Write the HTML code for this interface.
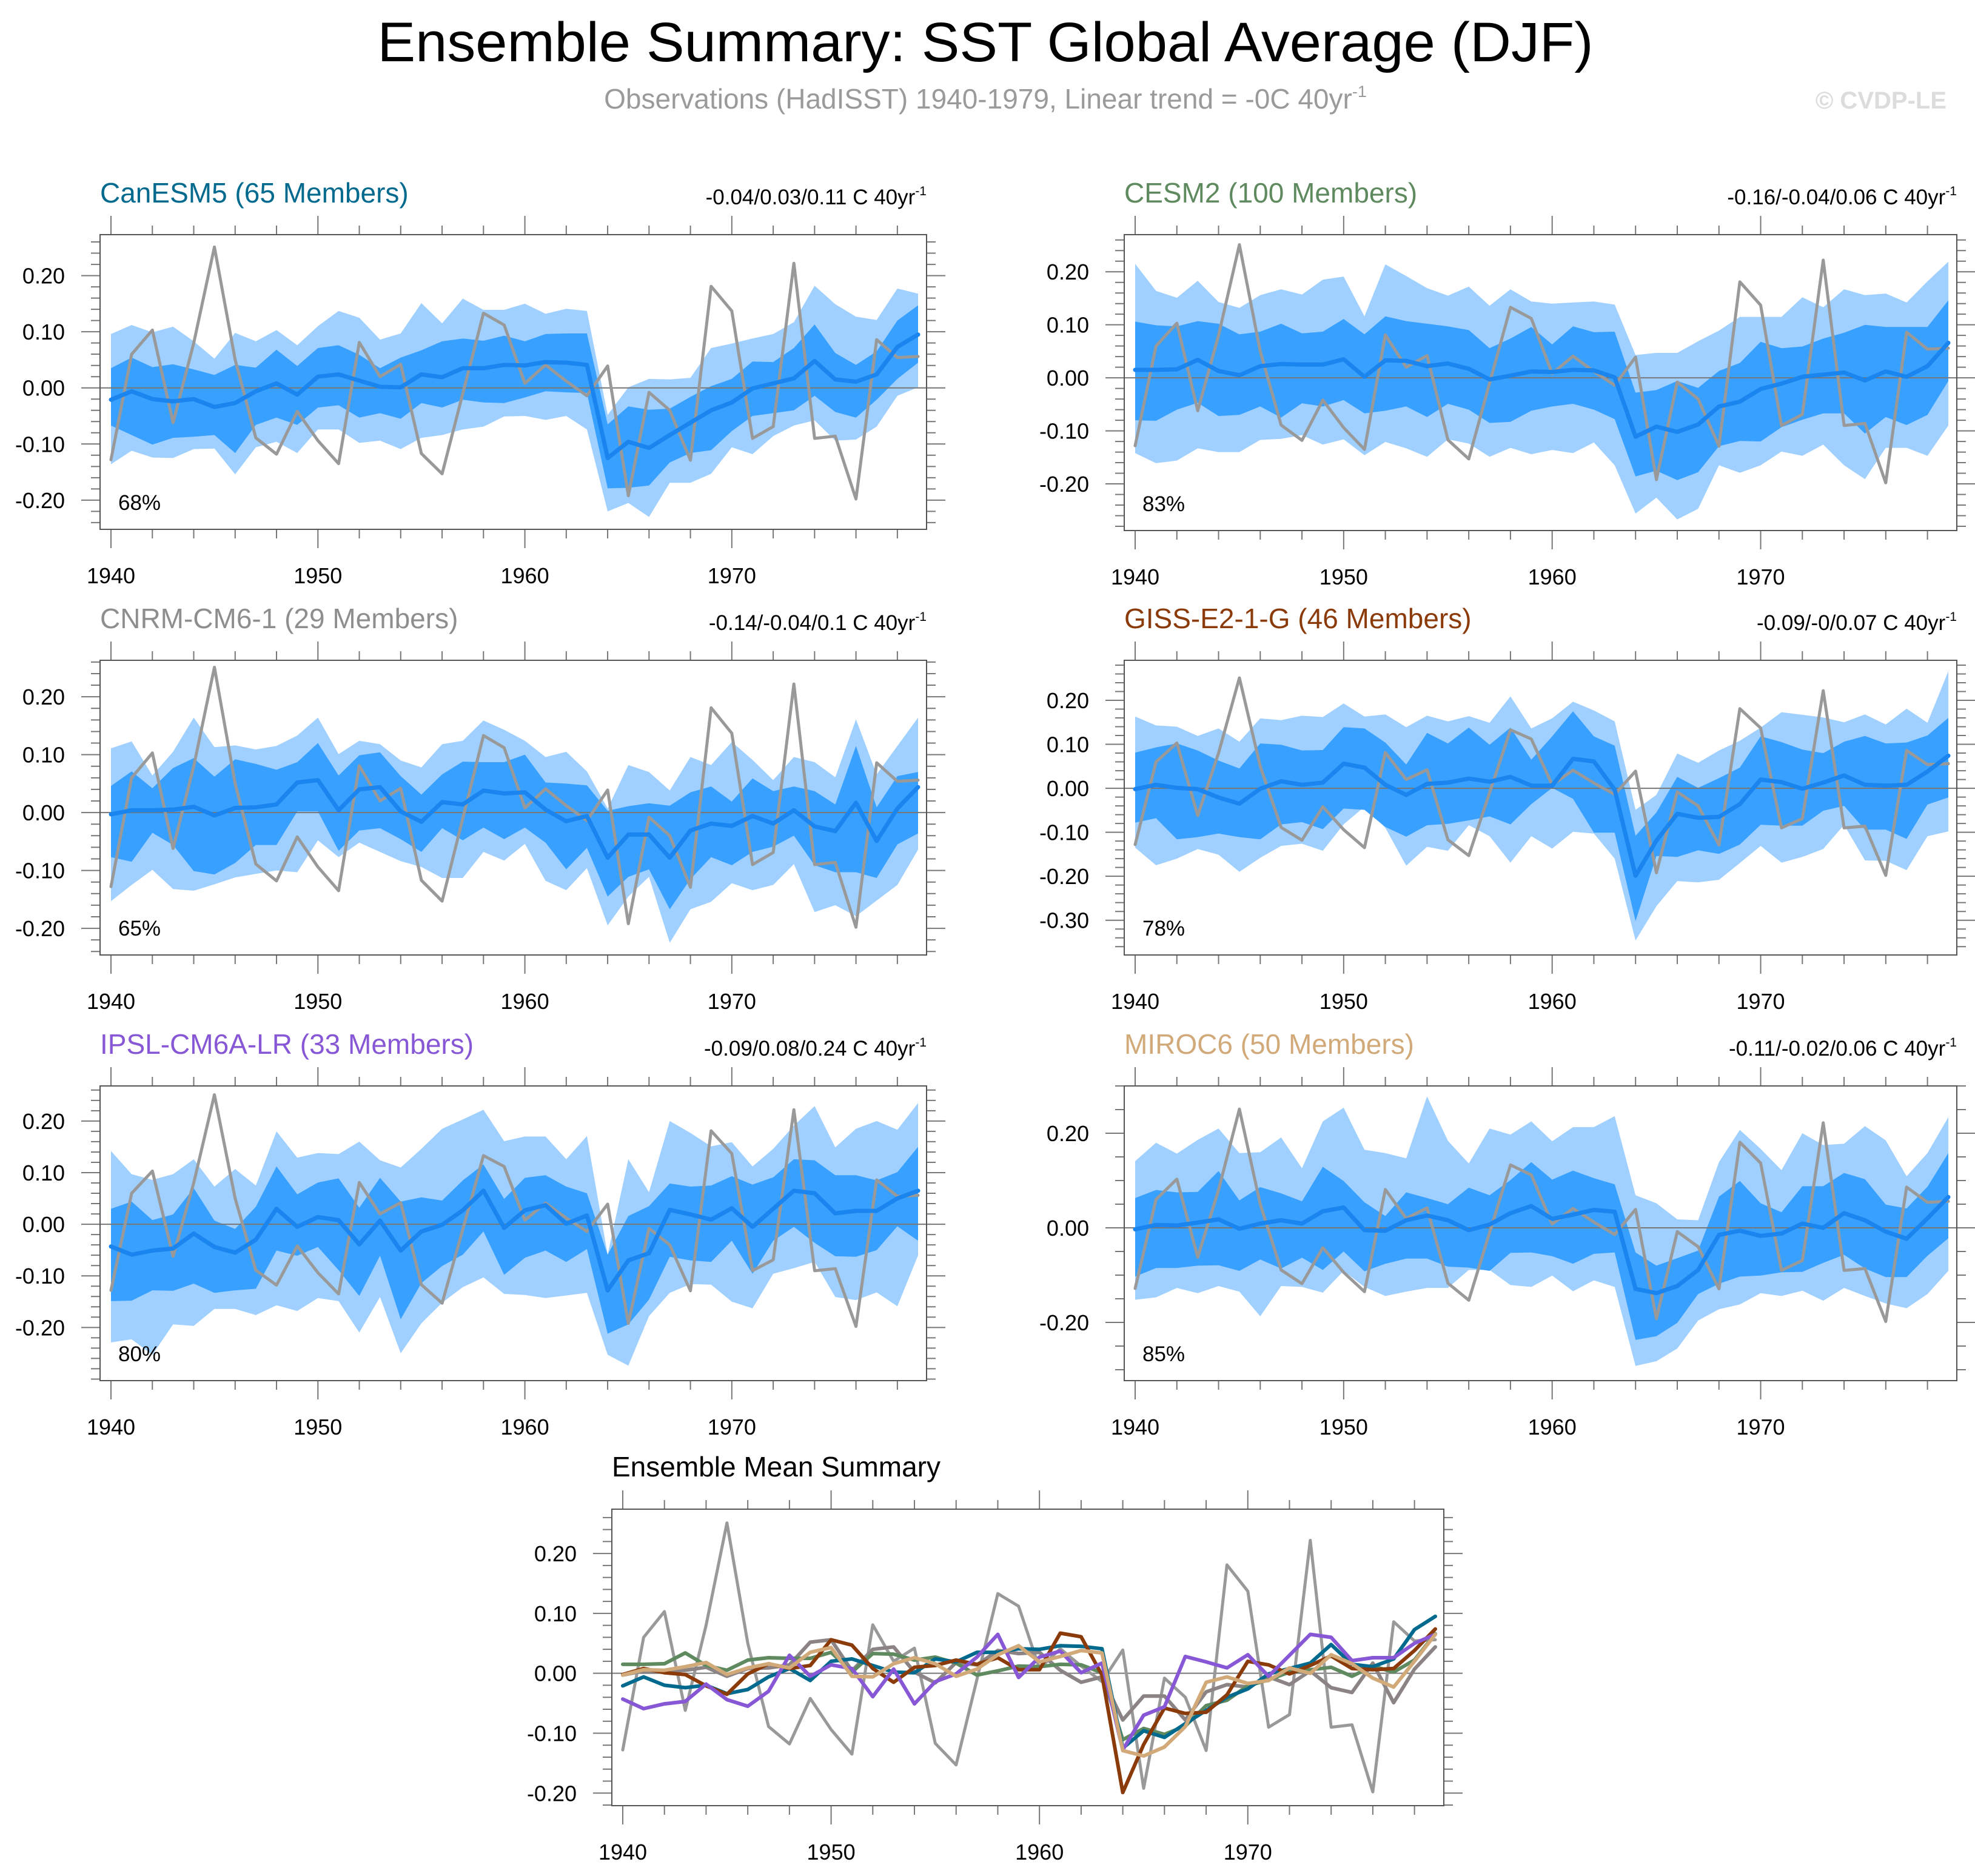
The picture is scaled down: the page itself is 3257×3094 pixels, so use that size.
<!DOCTYPE html>
<html><head><meta charset="utf-8"><style>
html,body{margin:0;padding:0;background:#fff}
svg{display:block;font-family:"Liberation Sans",sans-serif}
</style></head><body>
<svg id="chart" width="3257" height="3094" viewBox="0 0 3257 3094" xmlns="http://www.w3.org/2000/svg">
<rect x="0" y="0" width="3257" height="3094" fill="#fff"/>
<text x="1625" y="101" font-size="92" text-anchor="middle" textLength="2005" lengthAdjust="spacingAndGlyphs">Ensemble Summary: SST Global Average (DJF)</text>
<text x="1625" y="179" font-size="46" fill="#9a9a9a" text-anchor="middle">Observations (HadISST) 1940-1979, Linear trend = -0C 40yr<tspan font-size="27" dy="-19">-1</tspan></text>
<text x="3210" y="179" font-size="40" font-weight="bold" fill="#dcdcdc" text-anchor="end">© CVDP-LE</text>
<g id="plots"></g>
</svg>
<script>
const years=[];for(let y=1940;y<=1979;y++)years.push(y);
const obs=[-0.128,0.060,0.103,-0.062,0.08,0.251,0.05,-0.089,-0.118,-0.042,-0.094,-0.135,0.081,0.020,0.042,-0.117,-0.153,-0.01,0.133,0.112,0.008,0.041,0.012,-0.014,0.039,-0.192,-0.008,-0.040,-0.129,0.181,0.137,-0.090,-0.069,0.222,-0.090,-0.086,-0.198,0.086,0.054,0.056];

const canMean=[-0.021,-0.006,-0.020,-0.024,-0.020,-0.034,-0.027,-0.006,0.008,-0.012,0.020,0.024,0.013,0.002,0.001,0.024,0.019,0.035,0.035,0.041,0.040,0.046,0.045,0.041,-0.125,-0.096,-0.107,-0.084,-0.062,-0.040,-0.026,-0.001,0.008,0.017,0.048,0.015,0.011,0.024,0.073,0.095];
const canOutHi=[0.096,0.112,0.099,0.109,0.083,0.052,0.098,0.083,0.103,0.076,0.110,0.137,0.125,0.086,0.097,0.151,0.115,0.159,0.139,0.139,0.150,0.132,0.141,0.137,-0.048,0.001,0.016,0.015,0.018,0.071,0.079,0.088,0.096,0.117,0.182,0.149,0.127,0.121,0.177,0.168];
const canOutLo=[-0.136,-0.112,-0.124,-0.125,-0.109,-0.108,-0.154,-0.106,-0.096,-0.116,-0.074,-0.074,-0.098,-0.094,-0.109,-0.089,-0.084,-0.074,-0.069,-0.051,-0.050,-0.057,-0.050,-0.074,-0.220,-0.205,-0.230,-0.169,-0.169,-0.153,-0.106,-0.118,-0.086,-0.067,-0.058,-0.094,-0.092,-0.069,-0.014,0.001];
const canInHi=[0.035,0.054,0.037,0.042,0.033,0.023,0.041,0.036,0.068,0.039,0.071,0.076,0.059,0.035,0.054,0.067,0.083,0.088,0.084,0.093,0.083,0.096,0.097,0.097,-0.065,-0.033,-0.039,-0.037,-0.016,0.003,0.016,0.047,0.046,0.071,0.113,0.062,0.041,0.065,0.120,0.147];
const canInLo=[-0.067,-0.084,-0.101,-0.089,-0.087,-0.084,-0.116,-0.066,-0.053,-0.066,-0.035,-0.031,-0.053,-0.045,-0.055,-0.027,-0.035,-0.021,-0.026,-0.027,-0.017,-0.006,-0.008,-0.009,-0.179,-0.178,-0.174,-0.133,-0.116,-0.111,-0.077,-0.050,-0.045,-0.040,-0.014,-0.043,-0.053,-0.021,0.016,0.045];

const cesmMean=[0.015,0.015,0.016,0.034,0.013,0.005,0.022,0.026,0.025,0.025,0.035,0.002,0.033,0.032,0.022,0.027,0.017,-0.003,0.004,0.012,0.011,0.015,0.014,0.001,-0.111,-0.092,-0.102,-0.088,-0.054,-0.045,-0.021,-0.011,0.002,0.006,0.010,-0.005,0.012,0.002,0.022,0.066];
const cesmOutHi=[0.215,0.164,0.151,0.183,0.143,0.132,0.156,0.167,0.157,0.185,0.191,0.116,0.214,0.192,0.169,0.155,0.172,0.136,0.167,0.144,0.140,0.142,0.144,0.138,0.043,0.047,0.047,0.069,0.089,0.115,0.115,0.115,0.152,0.133,0.167,0.156,0.159,0.142,0.182,0.219];
const cesmOutLo=[-0.142,-0.161,-0.156,-0.133,-0.140,-0.140,-0.117,-0.115,-0.108,-0.126,-0.116,-0.146,-0.121,-0.133,-0.149,-0.116,-0.124,-0.149,-0.132,-0.144,-0.136,-0.142,-0.122,-0.165,-0.256,-0.226,-0.267,-0.247,-0.165,-0.179,-0.165,-0.139,-0.147,-0.126,-0.165,-0.191,-0.132,-0.132,-0.147,-0.090];
const cesmInHi=[0.106,0.099,0.097,0.107,0.102,0.082,0.087,0.102,0.084,0.087,0.111,0.082,0.116,0.107,0.102,0.097,0.090,0.056,0.074,0.096,0.063,0.097,0.086,0.087,-0.028,-0.023,-0.006,-0.019,0.013,0.028,0.068,0.056,0.059,0.074,0.085,0.100,0.096,0.096,0.096,0.146];
const cesmInLo=[-0.080,-0.081,-0.060,-0.047,-0.072,-0.070,-0.054,-0.075,-0.048,-0.054,-0.042,-0.067,-0.062,-0.054,-0.074,-0.049,-0.060,-0.085,-0.083,-0.062,-0.054,-0.049,-0.060,-0.078,-0.186,-0.175,-0.193,-0.178,-0.129,-0.119,-0.120,-0.093,-0.079,-0.067,-0.067,-0.105,-0.074,-0.089,-0.070,-0.006];

const cnrmMean=[-0.003,0.004,0.004,0.005,0.010,-0.005,0.008,0.009,0.014,0.052,0.056,0.004,0.040,0.044,0.002,-0.016,0.018,0.014,0.038,0.033,0.035,0.005,-0.015,-0.006,-0.078,-0.038,-0.038,-0.078,-0.031,-0.019,-0.023,-0.006,-0.019,0.004,-0.024,-0.032,0.017,-0.049,0.007,0.044];
const cnrmOutHi=[0.111,0.123,0.064,0.105,0.164,0.113,0.116,0.109,0.115,0.133,0.164,0.101,0.124,0.118,0.090,0.078,0.118,0.124,0.159,0.143,0.124,0.096,0.105,0.071,0.007,0.082,0.070,0.038,0.096,0.082,0.122,0.091,0.056,0.096,0.087,0.061,0.161,0.066,0.115,0.164];
const cnrmOutLo=[-0.153,-0.125,-0.099,-0.132,-0.135,-0.124,-0.112,-0.106,-0.100,-0.103,-0.048,-0.077,-0.052,-0.068,-0.084,-0.094,-0.113,-0.113,-0.068,-0.083,-0.054,-0.118,-0.134,-0.096,-0.195,-0.145,-0.111,-0.225,-0.167,-0.154,-0.122,-0.134,-0.125,-0.089,-0.172,-0.160,-0.179,-0.152,-0.125,-0.064];
const cnrmInHi=[0.046,0.071,0.042,0.077,0.094,0.062,0.092,0.084,0.074,0.087,0.120,0.064,0.099,0.104,0.063,0.031,0.066,0.088,0.087,0.087,0.100,0.052,0.050,0.047,0.003,0.011,0.016,0.012,0.035,0.045,0.019,0.059,0.037,0.045,0.037,0.014,0.115,0.009,0.063,0.070];
const cnrmInLo=[-0.077,-0.085,-0.035,-0.056,-0.101,-0.107,-0.087,-0.056,-0.056,0.002,0.002,-0.066,-0.031,-0.027,-0.046,-0.068,-0.027,-0.048,-0.026,-0.046,-0.026,-0.052,-0.098,-0.061,-0.145,-0.111,-0.098,-0.167,-0.115,-0.077,-0.091,-0.068,-0.059,-0.040,-0.091,-0.103,-0.103,-0.113,-0.055,-0.036];

const gissMean=[-0.002,0.008,0.001,-0.002,-0.021,-0.035,-0.001,0.016,0.008,0.013,0.056,0.047,0.008,-0.015,0.010,0.013,0.022,0.015,0.026,0.006,0.006,0.067,0.061,-0.003,-0.199,-0.119,-0.058,-0.067,-0.065,-0.036,0.020,0.014,-0.001,0.013,0.029,0.008,0.006,0.008,0.038,0.074];
const gissOutHi=[0.163,0.143,0.140,0.119,0.136,0.106,0.159,0.155,0.165,0.162,0.193,0.163,0.168,0.139,0.165,0.152,0.164,0.149,0.209,0.136,0.159,0.197,0.177,0.152,-0.049,-0.015,0.079,0.058,0.086,0.108,0.138,0.173,0.167,0.161,0.150,0.168,0.145,0.181,0.149,0.266];
const gissOutLo=[-0.135,-0.175,-0.160,-0.138,-0.151,-0.190,-0.158,-0.131,-0.126,-0.142,-0.082,-0.042,-0.090,-0.176,-0.133,-0.142,-0.084,-0.109,-0.169,-0.109,-0.137,-0.099,-0.103,-0.160,-0.346,-0.268,-0.211,-0.214,-0.208,-0.170,-0.131,-0.169,-0.156,-0.138,-0.083,-0.164,-0.165,-0.186,-0.109,-0.098];
const gissInHi=[0.081,0.093,0.102,0.086,0.063,0.045,0.102,0.099,0.086,0.087,0.139,0.136,0.104,0.054,0.126,0.102,0.138,0.099,0.138,0.065,0.118,0.175,0.118,0.097,-0.108,-0.055,0.026,0.001,0.023,0.047,0.118,0.105,0.088,0.080,0.106,0.119,0.102,0.104,0.120,0.160];
const gissInLo=[-0.078,-0.068,-0.116,-0.111,-0.103,-0.111,-0.116,-0.082,-0.077,-0.093,-0.046,-0.049,-0.088,-0.110,-0.084,-0.081,-0.073,-0.064,-0.082,-0.036,0.001,-0.024,-0.101,-0.101,-0.302,-0.154,-0.156,-0.141,-0.149,-0.128,-0.083,-0.085,-0.085,-0.051,-0.040,-0.094,-0.094,-0.115,-0.037,-0.021];

const ipslMean=[-0.043,-0.059,-0.051,-0.047,-0.018,-0.044,-0.055,-0.030,0.030,-0.005,0.014,0.008,-0.039,0.007,-0.051,-0.014,-0.001,0.027,0.065,-0.007,0.027,0.037,0.001,0.017,-0.128,-0.070,-0.056,0.028,0.019,0.009,0.031,-0.005,0.030,0.065,0.060,0.021,0.026,0.026,0.050,0.065];
const ipslOutHi=[0.142,0.097,0.086,0.097,0.126,0.073,0.107,0.075,0.180,0.129,0.138,0.136,0.160,0.124,0.110,0.146,0.185,0.203,0.222,0.161,0.170,0.170,0.126,0.171,-0.059,0.126,0.062,0.200,0.177,0.151,0.159,0.112,0.146,0.191,0.229,0.149,0.185,0.200,0.183,0.235];
const ipslOutLo=[-0.229,-0.223,-0.253,-0.194,-0.197,-0.164,-0.164,-0.176,-0.157,-0.168,-0.143,-0.149,-0.210,-0.141,-0.250,-0.192,-0.152,-0.122,-0.103,-0.135,-0.137,-0.143,-0.138,-0.133,-0.253,-0.274,-0.178,-0.133,-0.116,-0.117,-0.150,-0.163,-0.096,-0.085,-0.073,-0.141,-0.147,-0.132,-0.159,-0.060];
const ipslInHi=[0.030,0.044,0.008,0.019,0.070,0.007,-0.009,0.034,0.112,0.058,0.081,0.089,0.032,0.090,0.044,0.052,0.046,0.085,0.116,0.049,0.090,0.095,0.073,0.060,-0.059,0.016,0.035,0.079,0.073,0.075,0.093,0.077,0.091,0.126,0.124,0.095,0.095,0.085,0.101,0.150];
const ipslInLo=[-0.149,-0.148,-0.128,-0.129,-0.115,-0.133,-0.128,-0.125,-0.051,-0.061,-0.044,-0.089,-0.139,-0.061,-0.184,-0.114,-0.081,-0.059,-0.014,-0.098,-0.065,-0.051,-0.073,-0.048,-0.212,-0.194,-0.146,-0.063,-0.070,-0.073,-0.032,-0.096,-0.032,-0.005,-0.036,-0.062,-0.063,-0.050,-0.004,-0.032];

const mirocMean=[-0.003,0.006,0.005,0.011,0.018,-0.002,0.009,0.016,0.009,0.035,0.043,-0.005,-0.006,0.016,0.026,0.016,-0.005,0.007,0.031,0.046,0.019,0.028,0.038,0.034,-0.129,-0.138,-0.123,-0.089,-0.015,-0.006,-0.017,-0.012,0.009,0.000,0.031,0.016,-0.008,-0.023,0.020,0.065];
const mirocOutHi=[0.141,0.180,0.157,0.186,0.210,0.158,0.160,0.191,0.126,0.225,0.254,0.165,0.158,0.147,0.278,0.184,0.136,0.210,0.197,0.225,0.183,0.213,0.213,0.236,0.069,0.052,0.018,0.016,0.139,0.207,0.167,0.122,0.200,0.175,0.178,0.215,0.185,0.109,0.158,0.234];
const mirocOutLo=[-0.152,-0.147,-0.127,-0.138,-0.123,-0.135,-0.187,-0.123,-0.125,-0.137,-0.091,-0.125,-0.144,-0.135,-0.127,-0.127,-0.089,-0.089,-0.121,-0.125,-0.101,-0.134,-0.111,-0.125,-0.292,-0.282,-0.255,-0.196,-0.172,-0.162,-0.138,-0.144,-0.133,-0.154,-0.127,-0.144,-0.160,-0.170,-0.140,-0.091];
const mirocInHi=[0.063,0.080,0.075,0.076,0.120,0.058,0.086,0.073,0.056,0.129,0.099,0.054,0.025,0.075,0.063,0.050,0.085,0.069,0.101,0.139,0.102,0.121,0.105,0.092,-0.052,-0.080,-0.064,-0.048,0.066,0.099,0.052,0.033,0.088,0.088,0.116,0.103,0.049,0.041,0.087,0.158];
const mirocInLo=[-0.103,-0.085,-0.085,-0.080,-0.079,-0.091,-0.067,-0.086,-0.063,-0.089,-0.050,-0.092,-0.076,-0.065,-0.065,-0.082,-0.084,-0.091,-0.053,-0.052,-0.060,-0.076,-0.055,-0.052,-0.237,-0.229,-0.201,-0.140,-0.118,-0.103,-0.101,-0.094,-0.093,-0.074,-0.057,-0.086,-0.104,-0.104,-0.059,-0.022];

const NS="http://www.w3.org/2000/svg";
const root=document.getElementById('plots');
function mk(tag,attrs,parent){const e=document.createElementNS(NS,tag);for(const k in attrs)e.setAttribute(k,attrs[k]);(parent||root).appendChild(e);return e;}

const panels=[
 {key:'canesm5',title:'CanESM5 (65 Members)',color:'#006a8e',trend:'-0.04/0.03/0.11 C 40yr',pct:'68%',L:165,T:387,W:1363,H:486,ymin:-0.252,ymax:0.273,ticks:[-0.2,-0.1,0,0.1,0.2],minor:0.02,mean:canMean,oh:canOutHi,ol:canOutLo,ih:canInHi,il:canInLo},
 {key:'cesm2',title:'CESM2 (100 Members)',color:'#5f8a5f',trend:'-0.16/-0.04/0.06 C 40yr',pct:'83%',L:1854,T:387,W:1373,H:488,ymin:-0.288,ymax:0.270,ticks:[-0.2,-0.1,0,0.1,0.2],minor:0.02,mean:cesmMean,oh:cesmOutHi,ol:cesmOutLo,ih:cesmInHi,il:cesmInLo},
 {key:'cnrm',title:'CNRM-CM6-1 (29 Members)',color:'#8e8e8e',trend:'-0.14/-0.04/0.1 C 40yr',pct:'65%',L:165,T:1089,W:1363,H:486,ymin:-0.246,ymax:0.263,ticks:[-0.2,-0.1,0,0.1,0.2],minor:0.02,mean:cnrmMean,oh:cnrmOutHi,ol:cnrmOutLo,ih:cnrmInHi,il:cnrmInLo},
 {key:'giss',title:'GISS-E2-1-G (46 Members)',color:'#8b3a0a',trend:'-0.09/-0/0.07 C 40yr',pct:'78%',L:1854,T:1089,W:1373,H:486,ymin:-0.379,ymax:0.291,ticks:[-0.3,-0.2,-0.1,0,0.1,0.2],minor:0.02,mean:gissMean,oh:gissOutHi,ol:gissOutLo,ih:gissInHi,il:gissInLo},
 {key:'ipsl',title:'IPSL-CM6A-LR (33 Members)',color:'#8757d6',trend:'-0.09/0.08/0.24 C 40yr',pct:'80%',L:165,T:1791,W:1363,H:486,ymin:-0.303,ymax:0.268,ticks:[-0.2,-0.1,0,0.1,0.2],minor:0.02,mean:ipslMean,oh:ipslOutHi,ol:ipslOutLo,ih:ipslInHi,il:ipslInLo},
 {key:'miroc',title:'MIROC6 (50 Members)',color:'#d2aa7a',trend:'-0.11/-0.02/0.06 C 40yr',pct:'85%',L:1854,T:1791,W:1373,H:486,ymin:-0.323,ymax:0.300,ticks:[-0.2,0,0.2],minor:0.05,mean:mirocMean,oh:mirocOutHi,ol:mirocOutLo,ih:mirocInHi,il:mirocInLo}
];

function axes(p,g){
  const xs=y=>p.L+18+(y-1940)*(p.W-32)/39;
  const ys=v=>p.T+(p.ymax-v)/(p.ymax-p.ymin)*p.H;
  return [xs,ys];
}
function frameAndTicks(p,g,xs,ys){
  let d='';
  for(let y=1940;y<=1979;y+=2){const x=xs(y);const maj=(y%10===0);const l=maj?31:15;
    d+=`M${x},${p.T}V${p.T-l}M${x},${p.T+p.H}V${p.T+p.H+l}`;}
  const n0=Math.ceil(p.ymin/p.minor-1e-6),n1=Math.floor(p.ymax/p.minor+1e-6);
  for(let i=n0;i<=n1;i++){const v=i*p.minor;const y=ys(v);
    const maj=p.ticks.some(t=>Math.abs(t-v)<1e-6);const l=maj?31:15;
    d+=`M${p.L},${y}H${p.L-l}M${p.L+p.W},${y}H${p.L+p.W+l}`;}
  const tk=mk('path',{d:d,stroke:'#777','stroke-width':2,fill:'none'},g);
  
  
  const fr=mk('rect',{x:p.L,y:p.T,width:p.W,height:p.H,fill:'none',stroke:'#555','stroke-width':2},g);
  
  
  p.ticks.forEach(t=>{
    const tx=mk('text',{x:p.L-58,y:ys(t)+13,'font-size':36,'text-anchor':'end'},g);
    
    
    tx.textContent=t.toFixed(2);
  });
  [1940,1950,1960,1970].forEach(y=>{
    const tx=mk('text',{x:xs(y),y:p.T+p.H+89,'font-size':36,'text-anchor':'middle'},g);
    
    
    tx.textContent=y;
  });
}
function line(arr,xs,ys,attrs,g){
  const d=arr.map((v,i)=>(i?'L':'M')+xs(years[i]).toFixed(1)+','+ys(v).toFixed(1)).join('');
  return mk('path',Object.assign({d:d,fill:'none','stroke-linejoin':'round','stroke-linecap':'round'},attrs),g);
}
function band(hi,lo,xs,ys,fill,g){
  let d=hi.map((v,i)=>(i?'L':'M')+xs(years[i]).toFixed(1)+','+ys(v).toFixed(1)).join('');
  for(let i=lo.length-1;i>=0;i--)d+='L'+xs(years[i]).toFixed(1)+','+ys(lo[i]).toFixed(1);
  return mk('path',{d:d+'Z',fill:fill,stroke:'none'},g);
}

panels.forEach(p=>{
  const g=mk('g',{});
  
  
  const [xs,ys]=axes(p,g);
  const b1=band(p.oh,p.ol,xs,ys,'#a0d0ff',g);
  
  
  const b2=band(p.ih,p.il,xs,ys,'#38a0ff',g);
  
  
  const z=mk('line',{x1:p.L,x2:p.L+p.W,y1:ys(0),y2:ys(0),stroke:'#777','stroke-width':2},g);
  
  
  const ob=line(obs,xs,ys,{stroke:'#999','stroke-width':5},g);
  
  
  const mn=line(p.mean,xs,ys,{stroke:'#1a85ee','stroke-width':7},g);
  
  
  frameAndTicks(p,g,xs,ys);
  const t=mk('text',{x:p.L,y:p.T-53,'font-size':46,fill:p.color},g);
  
  
  t.textContent=p.title;
  const tr=mk('text',{x:p.L+p.W,y:p.T-50,'font-size':35,'text-anchor':'end'},g);
  
  
  tr.textContent=p.trend;
  const sup=mk('tspan',{'font-size':21,dy:-15},tr);
  sup.textContent='-1';
  const pc=mk('text',{x:p.L+30,y:p.T+p.H-32,'font-size':35},g);
  
  
  pc.textContent=p.pct;
});

const S={key:'summary',L:1009,T:2489,W:1372,H:489,ymin:-0.221,ymax:0.274,ticks:[-0.2,-0.1,0,0.1,0.2],minor:0.02};
const summarySeries=[
 {name:'cnrm',vals:cnrmMean,color:'#8c8484'},
 {name:'cesm2',vals:cesmMean,color:'#5f8a5f'},
 {name:'canesm5',vals:canMean,color:'#006a8e'},
 {name:'giss',vals:gissMean,color:'#8b3a0a'},
 {name:'ipsl',vals:ipslMean,color:'#8757d6'},
 {name:'miroc',vals:mirocMean,color:'#d2aa7a'}
];
(function(){
  const g=mk('g',{});
  
  
  const xs=y=>S.L+18+(y-1940)*(S.W-32)/39;
  const ys=v=>S.T+(S.ymax-v)/(S.ymax-S.ymin)*S.H;
  const z=mk('line',{x1:S.L,x2:S.L+S.W,y1:ys(0),y2:ys(0),stroke:'#777','stroke-width':2},g);
  
  
  const ob=line(obs,xs,ys,{stroke:'#999','stroke-width':5},g);
  
  
  summarySeries.forEach(s=>{
    const l=line(s.vals,xs,ys,{stroke:s.color,'stroke-width':6},g);
    
    
  });
  frameAndTicks(S,g,xs,ys);
  const t=mk('text',{x:S.L,y:2435,'font-size':46},g);
  
  
  t.textContent='Ensemble Mean Summary';
})();
</script>
</body></html>
